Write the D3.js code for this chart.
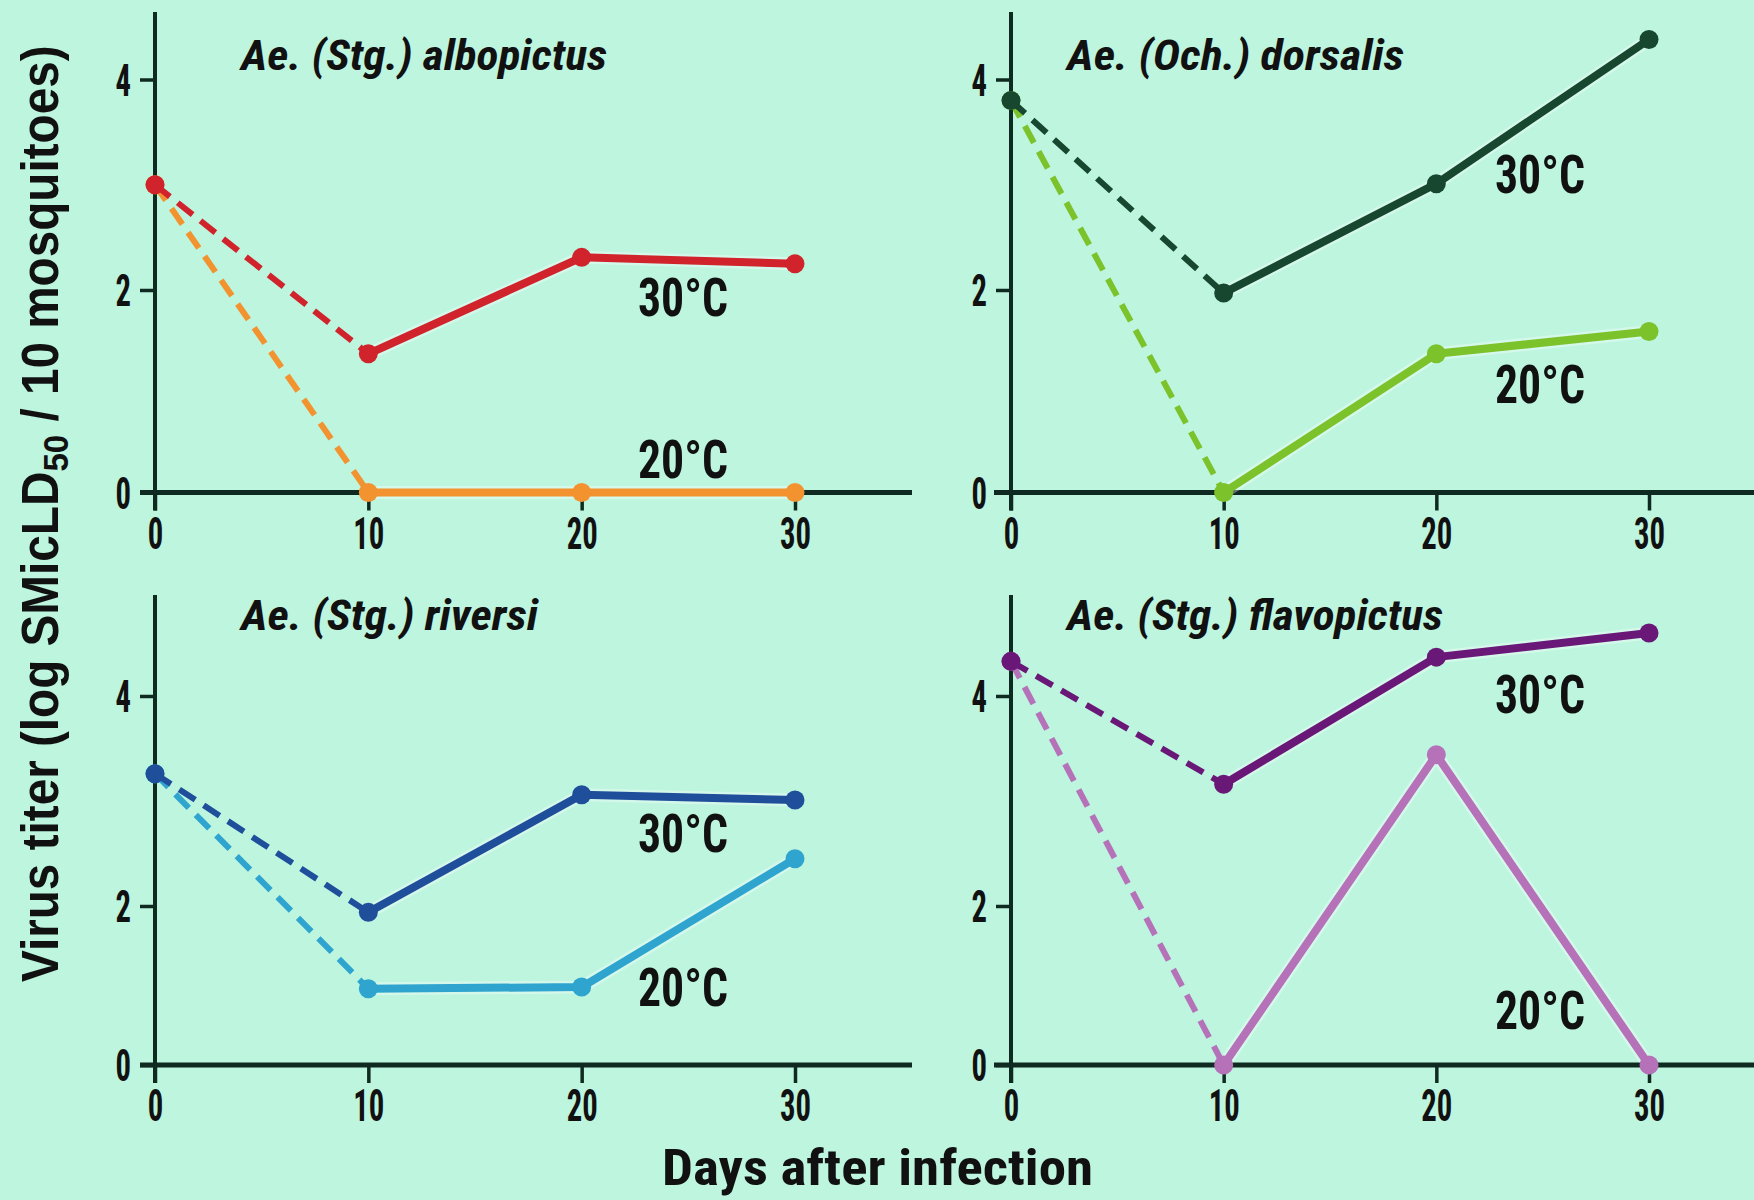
<!DOCTYPE html>
<html>
<head>
<meta charset="utf-8">
<script src="https://cdn.jsdelivr.net/npm/d3@7"></script>
<style>
  html, body { margin: 0; padding: 0; background: #bdf5df; }
  svg { display: block; }
  text { font-family: "Liberation Sans Narrow", "Roboto Condensed", "DejaVu Sans Condensed", "Liberation Sans", sans-serif; font-weight: bold; fill: #111; }
</style>
</head>
<body>
<svg id="chart" width="1754" height="1200"></svg>
<script>
// ---------------- data ----------------
const days = [0, 10, 20, 30];
const xTicks = [0, 10, 20, 30];
const yTicks = [0, 2, 4];
const species = ["Ae. (Stg.) albopictus", "Ae. (Och.) dorsalis", "Ae. (Stg.) riversi", "Ae. (Stg.) flavopictus"];
const temps = ["30°C", "20°C"];
const albopictus30 = [3.00, 1.37, 2.31, 2.25];
const albopictus20 = [3.00, 0.00, 0.00, 0.00];
const dorsalis30 = [3.80, 1.97, 3.01, 4.38];
const dorsalis20 = [3.80, 0.00, 1.37, 1.59];
const riversi30 = [3.26, 1.92, 3.06, 3.01];
const riversi20 = [3.26, 0.96, 0.98, 2.45];
const flavopictus30 = [4.33, 3.16, 4.37, 4.60];
const flavopictus20 = [4.33, 0.00, 3.44, 0.00];
const xTitle = "Days after infection";

// ---------------- styles / layout ----------------
const colors30 = ["#d0232b", "#17472f", "#1f4e9b", "#6a1878"];
const colors20 = ["#f2932f", "#7cc22b", "#2ea4cf", "#b572b8"];
const seriesValues = [
  [albopictus30, albopictus20],
  [dorsalis30, dorsalis20],
  [riversi30, riversi20],
  [flavopictus30, flavopictus20]
];
const panels = [
  { xr: [155, 795],  yr: [492.5, 290, 79.5], top: 12,  lineFrom: 140, lineTo: 912,
    title: [241, 70], titleW: 366, lab: [638, 316, 478] },
  { xr: [1011, 1649], yr: [492.5, 290, 79.5], top: 12,  lineFrom: 994, lineTo: 1754,
    title: [1067, 70], titleW: 337, lab: [1495, 193, 403] },
  { xr: [155, 795],  yr: [1065, 906, 696],  top: 595, lineFrom: 140, lineTo: 912,
    title: [241, 630], titleW: 297, lab: [638, 852, 1006] },
  { xr: [1011, 1649], yr: [1065, 906, 696],  top: 595, lineFrom: 994, lineTo: 1754,
    title: [1067, 630], titleW: 376, lab: [1495, 713, 1029] }
];
const axisColor = "#0f2a20";

const svg = d3.select("#chart");
svg.append("rect").attr("width", 1754).attr("height", 1200).attr("fill", "#bdf5df");

panels.forEach((p, i) => {
  const x = d3.scaleLinear().domain([0, 30]).range(p.xr);
  const y = d3.scaleLinear().domain(yTicks).range(p.yr);
  const g = svg.append("g");
  const y0 = y(0);

  // axis lines
  g.append("line").attr("x1", p.lineFrom).attr("x2", p.lineTo).attr("y1", y0).attr("y2", y0)
    .attr("stroke", axisColor).attr("stroke-width", 5);
  g.append("line").attr("x1", x(0)).attr("x2", x(0)).attr("y1", p.top).attr("y2", y0 + 18)
    .attr("stroke", axisColor).attr("stroke-width", 4);

  // x axis ticks
  const xa = g.append("g").attr("transform", `translate(0,${y0})`)
    .call(d3.axisBottom(x).tickValues(xTicks).tickSize(18).tickFormat(d3.format("d")));
  xa.select(".domain").remove();
  xa.selectAll(".tick line").attr("stroke", axisColor).attr("stroke-width", 3.5);
  xa.selectAll(".tick text").attr("y", 56).attr("dy", 0)
    .style("font-size", "44px").attr("fill", "#111")
    .attr("textLength", d => String(d).length * 15.5).attr("lengthAdjust", "spacingAndGlyphs");

  // y axis ticks
  const ya = g.append("g").attr("transform", `translate(${x(0)},0)`)
    .call(d3.axisLeft(y).tickValues(yTicks).tickSize(15).tickFormat(d3.format("d")));
  ya.select(".domain").remove();
  ya.selectAll(".tick line").attr("stroke", axisColor).attr("stroke-width", 3.5);
  ya.selectAll(".tick text").attr("x", -24).attr("dy", "0.36em")
    .style("font-size", "44px").attr("fill", "#111")
    .attr("textLength", 15.5).attr("lengthAdjust", "spacingAndGlyphs");

  // series: 20°C first, then 30°C
  const pairs = [
    { vals: seriesValues[i][1], color: colors20[i] },
    { vals: seriesValues[i][0], color: colors30[i] }
  ];
  pairs.forEach(s => {
    const pts = days.map((d, k) => [x(d), y(s.vals[k])]);
    const line = d3.line();
    const dashed = pts.slice(0, 2);
    const solid = pts.slice(1);
    // halo
    g.append("path").attr("d", line(solid)).attr("fill", "none")
      .attr("stroke", "#ffffff").attr("stroke-opacity", 0.35).attr("stroke-width", 13)
      .attr("stroke-linejoin", "round");
    g.append("path").attr("d", line(dashed)).attr("fill", "none")
      .attr("stroke", s.color).attr("stroke-width", 6).attr("stroke-dasharray", "19,10");
    g.append("path").attr("d", line(solid)).attr("fill", "none")
      .attr("stroke", s.color).attr("stroke-width", 8).attr("stroke-linejoin", "round");
    g.selectAll(null).data(pts).enter().append("circle")
      .attr("cx", d => d[0]).attr("cy", d => d[1]).attr("r", 9.5).attr("fill", s.color);
  });

  // temperature labels
  g.append("text").attr("x", p.lab[0]).attr("y", p.lab[1]).text(temps[0])
    .style("font-size", "54px").attr("textLength", 90).attr("lengthAdjust", "spacingAndGlyphs");
  g.append("text").attr("x", p.lab[0]).attr("y", p.lab[2]).text(temps[1])
    .style("font-size", "54px").attr("textLength", 90).attr("lengthAdjust", "spacingAndGlyphs");

  // species title
  g.append("text").attr("x", p.title[0]).attr("y", p.title[1]).text(species[i])
    .style("font-size", "43px").style("font-style", "italic")
    .attr("textLength", p.titleW).attr("lengthAdjust", "spacingAndGlyphs");
});

// x axis title
svg.append("text").attr("x", 662).attr("y", 1185).text(xTitle)
  .style("font-size", "50px").attr("textLength", 431).attr("lengthAdjust", "spacingAndGlyphs");

// y axis title (rotated, with subscript), fitted to target length
const yt = svg.append("g").attr("transform", "translate(58,982) rotate(-90)");
const ytext = yt.append("text").attr("x", 0).attr("y", 0)
  .style("font-family", "'Liberation Sans', Arial, sans-serif").style("font-size", "52px");
ytext.append("tspan").text("Virus titer (log SMicLD");
ytext.append("tspan").text("50").style("font-size", "36px").attr("dy", 10);
ytext.append("tspan").text(" / 10 mosquitoes)").attr("dy", -10);
const bw = ytext.node().getBBox().width;
ytext.attr("transform", `scale(${937 / bw},1)`);
</script>
</body>
</html>
